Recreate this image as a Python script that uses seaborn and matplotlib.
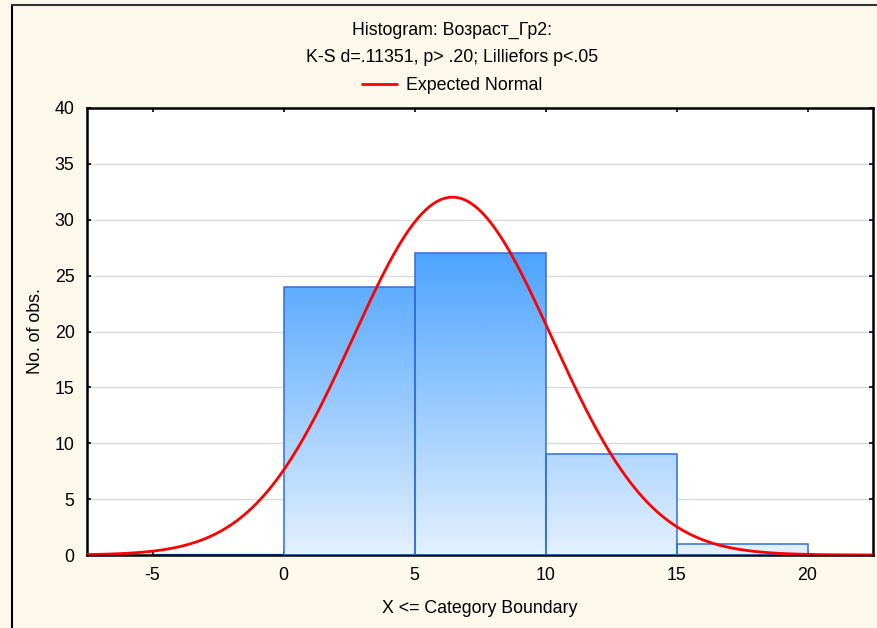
import numpy as np
import pandas as pd
import seaborn as sns
import matplotlib
matplotlib.use("Agg")
import matplotlib.pyplot as plt
from matplotlib.colors import LinearSegmentedColormap
from matplotlib.lines import Line2D

# ---- data ----
bin_edges = [-5, 0, 5, 10, 15, 20]
bin_centers = [-2.5, 2.5, 7.5, 12.5, 17.5]
counts = [0, 24, 27, 9, 1]
fit_mean = 6.45
fit_sd = 3.80
x_ticks = [-5, 0, 5, 10, 15, 20]
y_ticks = [0, 5, 10, 15, 20, 25, 30, 35, 40]
title_line1 = "Histogram: Возраст_Гр2:"
title_line2 = "K-S d=.11351, p> .20; Lilliefors p<.05"
legend_label = "Expected Normal"
xlabel = "X <= Category Boundary"
ylabel = "No. of obs."

sns.set_theme(style="white")
plt.rcParams['font.family'] = ['Liberation Sans', 'DejaVu Sans']
plt.rcParams['axes.unicode_minus'] = False
plt.rcParams['text.color'] = 'black'

FS = 12.8
W, H = 877, 628
fig = plt.figure(figsize=(W / 100, H / 100), dpi=100)
fig.patch.set_facecolor('#FDF8EC')
ax = fig.add_axes([87 / W, 1 - 555 / H, (873 - 87) / W, (555 - 108) / H])
ax.set_facecolor('white')

df = pd.DataFrame({"x": bin_centers, "n": counts})
sns.histplot(data=df, x="x", weights="n", bins=bin_edges, ax=ax,
             stat="count", element="bars", fill=True,
             facecolor='none', edgecolor='#2F6FD6', linewidth=1.1, zorder=3)

xlim = (-7.5, 22.5)
ylim = (0, 40)
ax.set_xlim(*xlim)
ax.set_ylim(*ylim)

# vertical gradient fill clipped to each bar
cmap = LinearSegmentedColormap.from_list("g", ['#E4F1FE', '#4AA2FE'])
grad = np.linspace(0, 1, 256).reshape(-1, 1)
for p in ax.patches:
    if p.get_height() <= 0:
        continue
    im = ax.imshow(grad, cmap=cmap, origin='lower', aspect='auto',
                   extent=[xlim[0], xlim[1], 0, 27.5], zorder=2, vmin=0, vmax=1)
    im.set_clip_path(p)
ax.set_xlim(*xlim)
ax.set_ylim(*ylim)

# zero-count bin drawn as a dark line
for p in ax.patches:
    if p.get_height() <= 0:
        p.set_edgecolor('#0B2A6B')
        p.set_linewidth(1.6)

# expected normal curve
xs = np.linspace(xlim[0], xlim[1], 400)
N = sum(counts)
bw = bin_edges[1] - bin_edges[0]
ys = N * bw * np.exp(-0.5 * ((xs - fit_mean) / fit_sd) ** 2) / (fit_sd * np.sqrt(2 * np.pi))
sns.lineplot(x=xs, y=ys, ax=ax, color='#FF0000', linewidth=2, zorder=4)

ax.set_xticks(x_ticks)
ax.set_yticks(y_ticks)
ax.yaxis.grid(True, color='#DADADA', linewidth=1)
ax.xaxis.grid(False)
ax.set_axisbelow(True)
ax.tick_params(axis='both', direction='in', length=3, width=1.2, color='black',
               labelsize=FS, labelcolor='black',
               top=True, right=True, bottom=True, left=True)
ax.tick_params(axis='y', pad=9)
ax.tick_params(axis='x', pad=9)
for s in ax.spines.values():
    s.set_visible(True)
    s.set_color('black')
    s.set_linewidth(1.8)

ax.set_xlabel(xlabel, fontsize=FS, color='black', labelpad=11)
ax.set_ylabel(ylabel, fontsize=FS, color='black', labelpad=8)

fig.text(452 / W, 1 - 30 / H, title_line1, ha='center', va='center', fontsize=FS, color='black')
fig.text(452 / W, 1 - 58 / H, title_line2, ha='center', va='center', fontsize=FS, color='black')

handle = Line2D([0], [0], color='#FF0000', linewidth=2)
fig.legend([handle], [legend_label], loc='center', bbox_to_anchor=(452 / W, 1 - 86 / H),
           frameon=False, fontsize=FS, handlelength=2.0, handletextpad=0.5,
           labelcolor='black')

# outer frame
fig.add_artist(Line2D([12 / W, 12 / W], [0, 1 - 5 / H], color='black', linewidth=1.5))
fig.add_artist(Line2D([12 / W, 1], [1 - 5 / H, 1 - 5 / H], color='#333333', linewidth=1.5))

fig.savefig("out.png", dpi=100, facecolor=fig.get_facecolor())
